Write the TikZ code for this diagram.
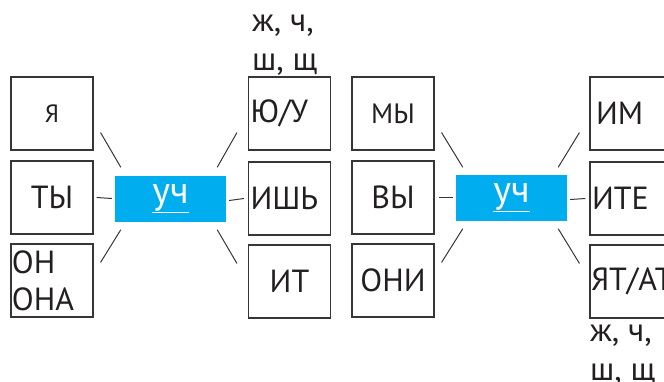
\documentclass[tikz,border=0pt]{standalone}
\usepackage{fontspec}
\setmainfont{PT Sans}
\definecolor{uchblue}{RGB}{0,174,239}
\definecolor{ink}{RGB}{35,31,32}
\begin{document}
\begin{tikzpicture}[x=1pt,y=-1pt,
  cell/.style={draw=ink!90, line width=1.1pt, minimum width=82pt,
    minimum height=73pt, text width=78pt, inner xsep=2pt, inner ysep=0pt,
    align=center, text=ink, font=\fontsize{32}{37}\selectfont},
  stem/.style={fill=uchblue, text=white, minimum width=111pt,
    minimum height=46pt, inner sep=0pt, font=\fontsize{38}{40}\selectfont},
  hint/.style={text=ink, align=left, inner sep=0pt,
    font=\fontsize{33}{39}\selectfont},
  link/.style={draw=ink!90, line width=1pt}]
  \useasboundingbox (0,0) rectangle (664,381);
  \clip (0,0) rectangle (664,381);

  % singular
  \node[cell, font=\fontsize{25}{28}\selectfont] (ya) at (52,113.5) {Я\hspace{8pt}};
  \node[cell] (ty) at (52,197.5) {ТЫ};
  \node[cell, align=left, inner xsep=1pt, text width=80pt] (on) at (52,280.5) {ОН\\ОНА};
  \node[stem] (uch1) at (170.5,198.5) {\underline{уч}};
  \node[cell, align=left] (yu) at (289.5,113.5) {Ю/У};
  \node[cell, align=left] (ish) at (289.5,198.5) {ИШЬ};
  \node[cell] (it) at (289.5,281.5) {ИТ\hspace{8pt}};
  \node[hint, anchor=base west] (hush1) at (252,70) {ж, ч,\\ш, щ};

  \draw[link] ([xshift=7pt,yshift=18pt]ya.south east) -- ([xshift=6pt,yshift=8pt]uch1.north west);
  \draw[link] ([xshift=3pt]ty.east) -- ([xshift=-3pt]uch1.west);
  \draw[link] ([xshift=7pt,yshift=-19pt]on.north east) -- ([xshift=6pt,yshift=-8pt]uch1.south west);
  \draw[link] ([xshift=-9pt,yshift=8pt]uch1.north east) -- ([xshift=-11pt,yshift=18pt]yu.south west);
  \draw[link] ([xshift=3pt,yshift=-2pt]uch1.east) -- ([xshift=-4pt]ish.west);
  \draw[link] ([xshift=-9pt,yshift=-8pt]uch1.south east) -- ([xshift=-11pt,yshift=-19pt]it.north west);

  % plural
  \node[cell, font=\fontsize{28}{31}\selectfont] (my) at (393,113.5) {МЫ\hspace{8pt}};
  \node[cell] (vy) at (393,197.5) {ВЫ};
  \node[cell] (oni) at (393,280.5) {ОНИ};
  \node[stem] (uch2) at (511.5,197.5) {\underline{уч}};
  \node[cell, align=left, inner xsep=6pt, text width=70pt] (im) at (631,113.5) {ИМ};
  \node[cell, align=left] (ite) at (631,198.5) {ИТЕ};
  \node[cell, align=left, inner xsep=1pt, text width=80pt] (yat) at (631,281.5) {ЯТ/АТ};
  \node[hint, anchor=base west] (hush2) at (590,380) {ж, ч,\\ш, щ};

  \draw[link] ([xshift=7pt,yshift=18pt]my.south east) -- ([xshift=7pt,yshift=7pt]uch2.north west);
  \draw[link] ([xshift=4pt]vy.east) -- ([xshift=-3pt]uch2.west);
  \draw[link] ([xshift=7pt,yshift=-19pt]oni.north east) -- ([xshift=7pt,yshift=-8pt]uch2.south west);
  \draw[link] ([xshift=-9pt,yshift=7pt]uch2.north east) -- ([xshift=-10pt,yshift=18pt]im.south west);
  \draw[link] ([xshift=3pt,yshift=-2pt]uch2.east) -- ([xshift=-4pt]ite.west);
  \draw[link] ([xshift=-9pt,yshift=-8pt]uch2.south east) -- ([xshift=-10pt,yshift=-19pt]yat.north west);
\end{tikzpicture}
\end{document}
